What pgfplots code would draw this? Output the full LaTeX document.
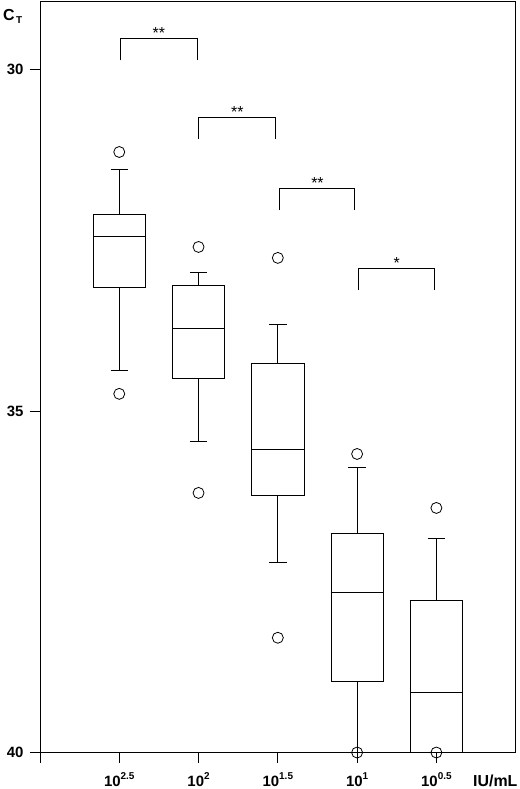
\documentclass[border=0pt]{standalone}
\usepackage{fontspec}
\setmainfont{Liberation Sans}
\usepackage{pgfplots}
\pgfplotsset{compat=1.18}
\usepgfplotslibrary{statistics}
\newcommand\sps[1]{\raisebox{6.5bp}{\fontsize{10}{11}\selectfont #1}}
\tikzset{sigstar/.style={anchor=base, inner sep=0, yshift=0.5bp, font=\fontsize{16}{18}\selectfont}}

\begin{document}
\begin{tikzpicture}
\begin{axis}[
  scale only axis, width=476bp, height=752bp,
  xmin=0, xmax=6, ymin=29, ymax=40, y dir=reverse,
  xtick={0,1,2,3,4,5},
  xticklabels={,10\sps{2.5},10\sps{2},10\sps{1.5},10\sps{1},10\sps{0.5}},
  ytick={30,35,40}, yticklabels={30,35,40},
  tick align=outside, major tick length=10bp,
  xtick pos=left, ytick pos=left,
  tick style={black, line width=0.8bp},
  axis line style={line width=0.8bp},
  ticklabel style={font=\fontsize{15}{17}\selectfont\bfseries},
  xticklabel style={yshift=-7bp},
  yticklabel style={xshift=-3bp},
  clip=false,
  boxplot/draw direction=y,
  boxplot/box extend=0.66,
  boxplot/whisker extend=0.22,
  boxstyle/.style={black, line width=0.8bp, solid, mark=o, mark size=5.5bp,
    mark options={solid, line width=0.8bp, fill=none}},
]
% 10^2.5
\addplot+[boxstyle, boxplot prepared={draw position=1, lower whisker=31.46, lower quartile=32.12,
  median=32.44, upper quartile=33.19, upper whisker=34.40}]
  table[row sep=\\, y index=0] {31.21\\ 34.75\\};
% 10^2
\addplot+[boxstyle, boxplot prepared={draw position=2, lower whisker=32.97, lower quartile=33.17,
  median=33.79, upper quartile=34.52, upper whisker=35.44}]
  table[row sep=\\, y index=0] {32.60\\ 36.20\\};
% 10^1.5
\addplot+[boxstyle, boxplot prepared={draw position=3, lower whisker=33.74, lower quartile=34.30,
  median=35.56, upper quartile=36.23, upper whisker=37.22}]
  table[row sep=\\, y index=0] {32.76\\ 38.32\\};
% 10^1
\addplot+[boxstyle, boxplot prepared={draw position=4, lower whisker=35.82, lower quartile=36.79,
  median=37.65, upper quartile=38.96, upper whisker=40.0}]
  table[row sep=\\, y index=0] {35.63\\ 40.0\\};
% 10^0.5
\addplot+[boxstyle, boxplot prepared={draw position=5, lower whisker=36.87, lower quartile=37.77,
  median=39.12, upper quartile=40.0, upper whisker=40.0}]
  table[row sep=\\, y index=0] {36.42\\ 40.0\\};

% significance brackets
\draw[line width=0.8bp] (axis cs:1.01,29.87) -- (axis cs:1.01,29.55) -- (axis cs:1.98,29.55) -- (axis cs:1.98,29.87);
\node[sigstar] at (axis cs:1.5,29.55) {**};
\draw[line width=0.8bp] (axis cs:2.0,31.02) -- (axis cs:2.0,30.71) -- (axis cs:2.97,30.71) -- (axis cs:2.97,31.02);
\node[sigstar] at (axis cs:2.49,30.71) {**};
\draw[line width=0.8bp] (axis cs:3.02,32.06) -- (axis cs:3.02,31.75) -- (axis cs:3.97,31.75) -- (axis cs:3.97,32.06);
\node[sigstar] at (axis cs:3.5,31.75) {**};
\draw[line width=0.8bp] (axis cs:4.02,33.23) -- (axis cs:4.02,32.92) -- (axis cs:4.97,32.92) -- (axis cs:4.97,33.23);
\node[sigstar] at (axis cs:4.5,32.92) {*};

% axis titles
\node[anchor=base west, inner sep=0, xshift=-37bp, yshift=-20bp, font=\fontsize{16}{18}\selectfont\bfseries]
  at (rel axis cs:0,1) {C\kern1.5bp\raisebox{-3bp}{\fontsize{10}{11}\selectfont T}};
\node[anchor=base east, inner sep=0, xshift=2bp, yshift=-33.5bp, font=\fontsize{16}{18}\selectfont\bfseries]
  at (rel axis cs:1,0) {IU/mL};
\end{axis}
\pgfresetboundingbox
\path ([xshift=-40bp,yshift=-36.5bp]current axis.south west) rectangle ([xshift=4bp,yshift=1bp]current axis.north east);
\end{tikzpicture}
\end{document}
